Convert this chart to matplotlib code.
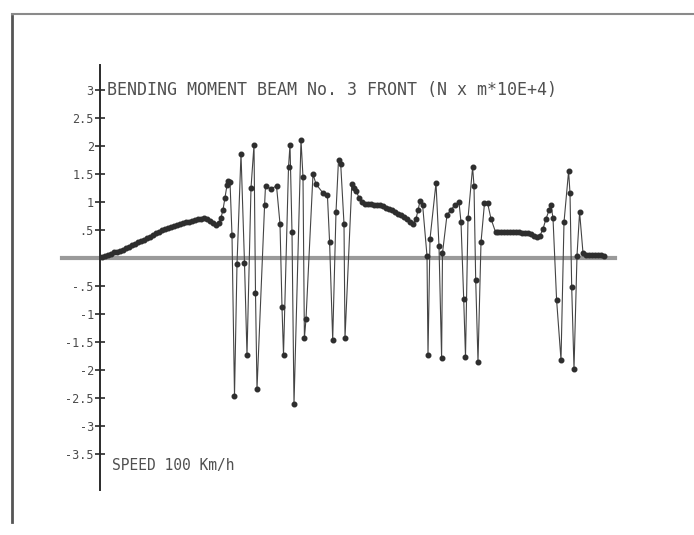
import numpy as np
import matplotlib
matplotlib.use('Agg')
import matplotlib.pyplot as plt
from matplotlib.lines import Line2D

# Momento fletor (N x m * 10E+4) ao longo da viga, por trecho: (posicao, valor)
rampa = [
    (2, 0.02), (5, 0.04), (8, 0.06), (11, 0.08), (14, 0.10), (17, 0.11),
    (20, 0.13), (23, 0.15), (26, 0.18), (29, 0.20), (32, 0.23), (35, 0.25),
    (38, 0.28), (41, 0.30), (44, 0.33), (47, 0.35), (50, 0.38), (53, 0.41),
    (56, 0.44), (59, 0.47), (62, 0.50), (65, 0.52), (68, 0.54), (71, 0.56),
    (74, 0.58), (77, 0.59), (80, 0.61), (83, 0.62), (86, 0.64), (89, 0.65),
    (92, 0.66), (95, 0.67), (98, 0.69), (101, 0.70), (104, 0.71), (107, 0.69),
    (110, 0.66), (113, 0.62), (116, 0.59), (119, 0.62), (121, 0.72),
    (123, 0.86), (125, 1.08), (127, 1.30), (128, 1.37), (130, 1.36),
]
grupo_a = [
    (132, 0.41), (134.5, -2.46), (137, -0.11), (141, 1.86), (144.5, -0.09),
    (147, -1.73), (151, 1.25), (154, 2.02), (155.5, -0.63), (157, -2.34),
    (164.6, 0.95), (165.5, 1.29), (171, 1.23), (176.5, 1.29), (180, 0.61),
    (182, -0.88), (183.5, -1.73), (188.5, 1.62), (190, 2.02), (192, 0.46),
    (194, -2.61), (201, 2.11), (203, 1.44), (204.4, -1.43), (206, -1.09),
    (213, 1.50), (216, 1.32), (223, 1.16), (227.4, 1.13), (229.6, 0.28),
    (232.7, -1.46), (236, 0.82), (238.5, 1.75), (240.7, 1.68), (244, 0.61),
    (245, -1.43), (251.8, 1.32), (254, 1.25),
]
trecho_1 = [
    (256, 1.20), (259, 1.08), (262, 1.00), (265, 0.97), (268, 0.96),
    (271, 0.96), (274, 0.95), (277, 0.95), (280, 0.94), (283, 0.92),
    (286, 0.90), (289, 0.87), (292, 0.85), (295, 0.82), (298, 0.79),
    (301, 0.76), (304, 0.73), (307, 0.69), (310, 0.64), (313, 0.61),
    (316, 0.70), (318, 0.85), (320, 1.02),
]
grupo_b = [
    (322.6, 0.95), (327, 0.04), (328, -1.73), (330, 0.34), (336, 1.34),
    (339, 0.21), (341.6, -1.79), (342.5, 0.09), (347, 0.77), (351, 0.86),
    (355, 0.95), (359, 1.00), (361, 0.64), (363.7, -0.73), (365.5, -1.77),
    (368, 0.71), (372.6, 1.62), (374, 1.29), (375.7, -0.39), (378, -1.85),
    (381, 0.28), (384.5, 0.98), (387.6, 0.98), (391, 0.70), (395.6, 0.46),
]
trecho_2 = [
    (398, 0.46), (401, 0.47), (404, 0.47), (407, 0.47), (410, 0.47),
    (413, 0.47), (416, 0.46), (419, 0.46), (422, 0.45), (425, 0.45),
    (428, 0.44), (431, 0.42), (434, 0.40), (437, 0.38), (440, 0.40),
    (443, 0.52), (446, 0.70), (449, 0.85), (451, 0.95),
]
grupo_c = [
    (453, 0.71), (456.6, -0.75), (461, -1.82), (464, 0.64), (468.6, 1.55),
    (470, 1.16), (471.7, -0.52), (474, -1.98), (477, 0.04), (479.6, 0.82),
    (483, 0.09),
]
final = [
    (486, 0.06), (489, 0.05), (492, 0.06), (495, 0.05), (498, 0.06),
    (501, 0.05), (504, 0.04),
]

valores_ticks = [3, 2.5, 2, 1.5, 1, 0.5, -0.5, -1, -1.5, -2, -2.5, -3, -3.5]
rotulos_ticks = ['3', '2.5', '2', '1.5', '1', '.5', '-.5', '-1', '-1.5',
                 '-2', '-2.5', '-3', '-3.5']

titulo = 'BENDING MOMENT BEAM No. 3 FRONT (N x m*10E+4)'
velocidade = 'SPEED 100 Km/h'

pontos = np.array(rampa + grupo_a + trecho_1 + grupo_b + trecho_2 + grupo_c + final)
posicao = pontos[:, 0]
momento = pontos[:, 1]

fig = plt.figure(figsize=(6.94, 5.35), dpi=100)
ax = fig.add_axes([0, 0, 1, 1])
ax.set_xlim(-100, 594)
ax.set_ylim(-4.946, 4.607)

# Linha do zero (cinza, grossa)
ax.plot([-38, 515], [0, 0], color='#9a9a9a', linewidth=3, zorder=1)

# Curva do momento com os pontos medidos
ax.plot(posicao, momento, color='#444444', linewidth=0.8,
        marker='o', markersize=3.3, markerfacecolor='#2e2e2e',
        markeredgecolor='#2e2e2e', zorder=3)

# Eixo vertical passando pela origem
for lado in ['top', 'right', 'bottom']:
    ax.spines[lado].set_visible(False)
ax.spines['left'].set_position(('data', 0))
ax.spines['left'].set_bounds(-4.14, 3.45)
ax.spines['left'].set_color('#2a2a2a')
ax.spines['left'].set_linewidth(1.4)
ax.set_xticks([])
ax.set_yticks(valores_ticks)
ax.set_yticklabels(rotulos_ticks, family='DejaVu Sans Mono', fontsize=8.5,
                   color='#4a4a4a')
ax.tick_params(axis='y', direction='inout', length=7, width=1.2,
               color='#2a2a2a', pad=1)

ax.text(7, 3.0, titulo, family='DejaVu Sans Mono', fontsize=12,
        color='#505050', va='center', ha='left')
ax.text(12, -3.7, velocidade, family='DejaVu Sans Mono', fontsize=10.5,
        color='#505050', va='center', ha='left')

# Borda da folha digitalizada
fig.add_artist(Line2D([12 / 694, 12 / 694], [1 - 16 / 535, 1 - 522 / 535],
                      transform=fig.transFigure, color='#555555', linewidth=2))
fig.add_artist(Line2D([12 / 694, 1], [1 - 14 / 535, 1 - 14 / 535],
                      transform=fig.transFigure, color='#8a8a8a', linewidth=1.5))

fig.savefig('out.png', dpi=100)
